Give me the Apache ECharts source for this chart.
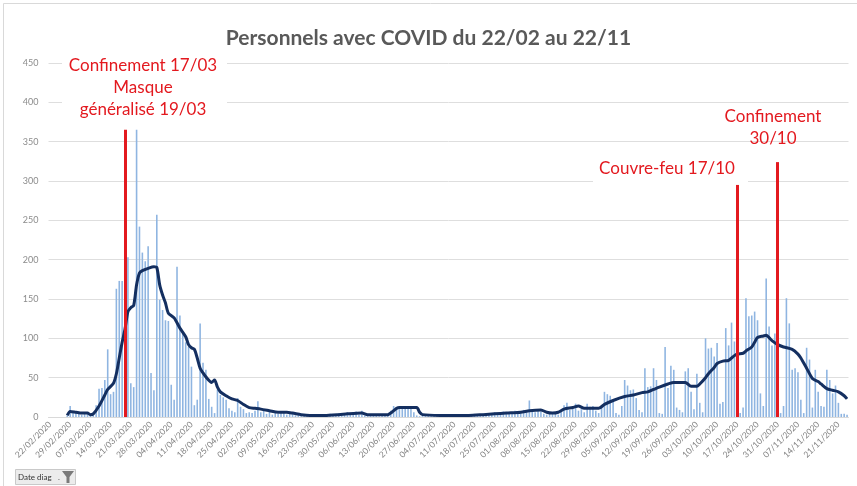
<!DOCTYPE html>
<html>
<head>
<meta charset="utf-8">
<script src="https://cdn.jsdelivr.net/npm/echarts@6/dist/echarts.min.js"></script>
<style>
  html,body{margin:0;padding:0;background:#fff;}
  #chart{width:857px;height:486px;}
</style>
</head>
<body>
<div id="chart"></div>
<script>
// ===== Données
const START = new Date(2020, 1, 22);   // 22/02/2020
const NB_JOURS = 277;                  // jusqu'au 25/11/2020

// nombre de personnes par jour (date diag)
const cas = [
  0,0,0,0,0,0,2,14,5,6,4,3,5,4,2,3,15,36,37,47,
  86,29,32,163,173,173,180,203,43,38,365,242,209,198,217,56,34,257,149,136,
  123,122,41,22,191,129,107,95,89,64,15,22,119,69,60,23,13,5,35,28,
  25,22,11,8,6,24,13,10,5,6,5,8,20,6,9,4,8,3,6,4,
  7,5,3,6,4,2,3,1,2,3,2,1,2,3,2,1,2,4,3,2,
  5,4,3,6,4,5,7,3,8,2,1,2,3,2,1,3,2,4,8,14,
  12,10,14,12,11,13,6,2,1,2,3,2,1,3,2,2,1,3,2,2,
  3,1,2,3,2,2,3,4,2,3,4,3,5,4,6,3,5,7,4,6,
  5,8,6,5,9,7,21,8,6,9,7,4,3,5,4,6,3,9,15,18,
  9,11,17,8,10,6,17,13,14,8,5,12,32,29,27,20,5,3,14,47,
  40,34,35,24,9,6,62,38,39,62,47,5,4,89,37,65,60,12,9,6,
  58,62,32,10,55,18,6,100,87,88,77,94,17,19,113,91,120,96,40,5,
  12,151,128,129,134,123,30,14,176,115,91,106,22,5,14,151,119,60,62,57,
  22,5,88,73,12,60,32,14,13,60,47,30,40,18,4,4,3
];

// moyenne glissante : jour (décalage depuis le 22/02) -> valeur
const moyJour = [6,7,9,11,13,14,15,17,19,20,22,23,24,25,26,27,28,29,30,31,32,34,36,37,38,39,40,41,43,45,47,48,49,50,51,52,53,54,56,57,58,59,61,63,65,67,69,71,73,76,79,82,84,87,90,95,100,103,108,110,117,118,119,120,121,127,128,129,135,145,150,154,158,163,166,170,172,174,176,178,181,183,185,190,192,195,199,202,205,207,209,211,214,216,220,222,224,225,227,228,230,231,233,235,237,238,240,241,243,244,245,247,248,249,250,252,254,257,259,260,262,264,266,267,269,271,273,275,276];
const moyVal  = [2,7,6,5,5,3,4,14,28,35,43,55,75,95,112,134,139,142,168,183,186,189,191,190,168,155,145,132,126,113,102,92,88,86,75,62,56,51,44,47,38,32,27,23,21,16,12,11,10,8,6,6,5,3,2,2,3,4,5,3,3,5,8,11,12,12,6,3,2,2,3,4,5,6,8,9,6,5,6,10,12,14,11,11,16,21,26,28,31,32,35,38,42,44,44,39,39,42,50,55,63,68,71,72,78,80,81,84,89,95,101,103,104,101,97,92,89,86,80,75,62,49,45,42,36,34,32,27,23];

// mesures (jour, hauteur du trait)
const evtJour = [26, 238, 252];
const evtHaut = [365, 295, 324];

const yTicks = { min: 0, max: 450, interval: 50 };

// ===== Construction
function fmtDate(d){
  const dd = String(d.getDate()).padStart(2,'0');
  const mm = String(d.getMonth()+1).padStart(2,'0');
  return `${dd}/${mm}/${d.getFullYear()}`;
}
const jours = [];
for (let i=0;i<NB_JOURS;i++){
  jours.push(fmtDate(new Date(START.getFullYear(), START.getMonth(), START.getDate()+i)));
}
const moyData = jours.map(()=>null);
moyJour.forEach((j,k)=>{ moyData[j] = moyVal[k]; });

const ROUGE = '#e3191f';
const FONT = 'Lato, "Open Sans", sans-serif';
const txt = (x,y,s)=>({ type:'text', x, y, z:11, style:{ text:s, fill:ROUGE, font:`17px ${FONT}`, textAlign:'center', textVerticalAlign:'middle' } });

const chart = echarts.init(document.getElementById('chart'), null, { renderer:'canvas' });
chart.setOption({
  backgroundColor:'#fff',
  animation:false,
  title:{
    text:'Personnels avec COVID du 22/02 au 22/11',
    left:'center', top:23,
    textStyle:{ color:'#595959', fontSize:21, fontWeight:'bold', fontFamily:FONT }
  },
  grid:{ left:48.5, right:8.5, top:63, bottom:69 },
  xAxis:{
    type:'category', data:jours, boundaryGap:true,
    axisLine:{ lineStyle:{ color:'#d9d9d9' } },
    axisTick:{ interval:6, alignWithLabel:true, length:4, lineStyle:{ color:'#d9d9d9' } },
    axisLabel:{ interval:6, rotate:45, fontSize:8.5, color:'#7f7f7f', margin:6, fontFamily:FONT }
  },
  yAxis:{
    type:'value', min:yTicks.min, max:yTicks.max, interval:yTicks.interval,
    axisLine:{ show:false }, axisTick:{ show:false },
    axisLabel:{ fontSize:9, color:'#8c8c8c', margin:10, fontFamily:FONT },
    splitLine:{ lineStyle:{ color:'#dedede' } }
  },
  series:[
    { type:'bar', data:cas, barWidth:'55%', itemStyle:{ color:'#8fb5e1' } },
    {
      type:'line', data:moyData, connectNulls:true, smooth:0.25,
      symbol:'none', lineStyle:{ color:'#142f60', width:3 }, z:3,
      markLine:{
        silent:true, symbol:'none', label:{ show:false },
        lineStyle:{ color:ROUGE, width:3, type:'solid' },
        data: evtJour.map((j,k)=>[{ coord:[j,0] }, { coord:[j,evtHaut[k]] }])
      }
    }
  ],
  graphic:[
    { type:'rect', left:1, top:1, z:10, shape:{ width:854, height:483 }, style:{ fill:'none', stroke:'#d9d9d9' }, silent:true },
    // fonds blancs des étiquettes
    { type:'rect', left:62, top:54, z:10, shape:{ width:165, height:67 }, style:{ fill:'#fff' }, silent:true },
    { type:'rect', left:593, top:158, z:10, shape:{ width:155, height:24 }, style:{ fill:'#fff' }, silent:true },
    txt(143, 66, 'Confinement 17/03'),
    txt(143, 88, 'Masque'),
    txt(143, 110, 'généralisé 19/03'),
    txt(667, 169, 'Couvre-feu 17/10'),
    txt(773, 117, 'Confinement'),
    txt(773, 139, '30/10'),
    // bouton de champ "Date diag"
    { type:'rect', left:15, top:469, z:10, shape:{ width:60, height:15 }, style:{ fill:'#ececec', stroke:'#c9c9c9' }, silent:true },
    { type:'text', x:18, y:477, z:11, style:{ text:'Date diag', fill:'#333', font:`8px ${FONT}`, textVerticalAlign:'middle' } },
    { type:'text', x:58, y:477, z:11, style:{ text:'.', fill:'#555', font:`8px ${FONT}`, textVerticalAlign:'middle' } },
    { type:'polygon', z:11, shape:{ points:[[62,471],[74,471],[69.5,477],[69.5,483],[66.5,483],[66.5,477]] }, style:{ fill:'#7a7a7a' }, silent:true }
  ]
});
</script>
</body>
</html>
